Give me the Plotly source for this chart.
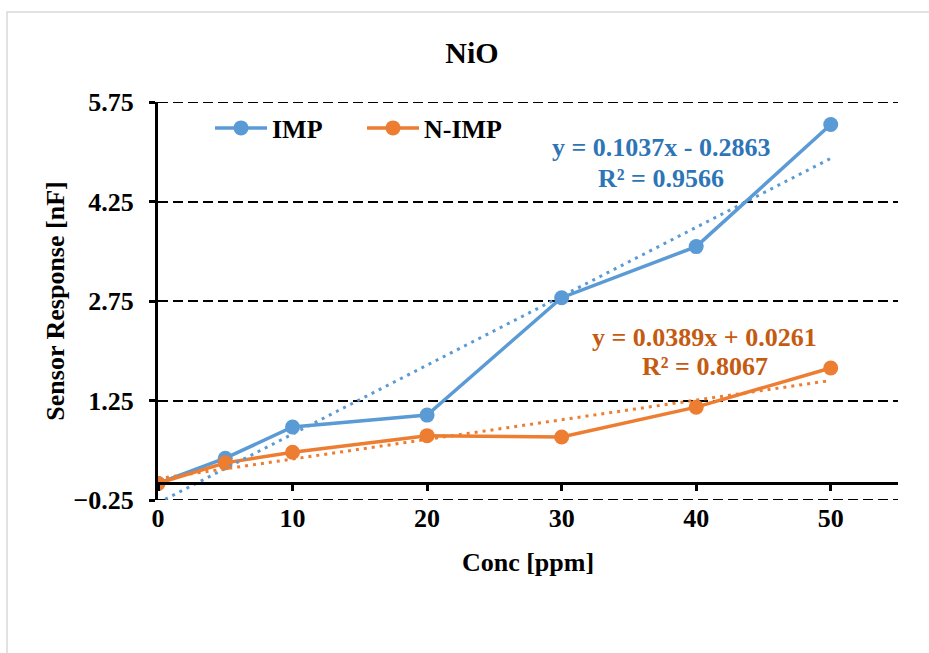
import numpy as np
import plotly.graph_objects as go

# Sensor response of NiO sensors vs. gas concentration
conc = [0, 5, 10, 20, 30, 40, 50]
imp = [0.00, 0.38, 0.85, 1.03, 2.80, 3.57, 5.41]
n_imp = [0.00, 0.31, 0.47, 0.72, 0.70, 1.15, 1.74]

x_ticks = [0, 10, 20, 30, 40, 50]
y_ticks = [-0.25, 1.25, 2.75, 4.25, 5.75]
x_range = [0, 55]
y_range = [-0.25, 5.75]

eq_imp = ["y = 0.1037x - 0.2863", "R² = 0.9566"]
eq_nimp = ["y = 0.0389x + 0.0261", "R² = 0.8067"]

BLUE = "#5B9BD5"
ORANGE = "#ED7D31"
BLUE_TXT = "#2E75B6"
ORANGE_TXT = "#C55A11"
FONT = "Liberation Serif"
GRID_DASH = "10px,5px"

W, H = 929, 653
L, R, T, B = 158, 31, 102, 153
PW, PH = W - L - R, H - T - B


def px(xp, yp):
    """Canvas pixel -> paper coordinates."""
    return (xp - L) / PW, (H - B - yp) / PH


fig = go.Figure()

for name, ys, col in [("IMP", imp, BLUE), ("N-IMP", n_imp, ORANGE)]:
    fig.add_trace(go.Scatter(
        x=conc, y=ys, name=name, mode="lines+markers",
        line=dict(color=col, width=3.5),
        marker=dict(color=col, size=15),
    ))

# Linear least-squares trendlines
for ys, col in [(imp, BLUE), (n_imp, ORANGE)]:
    k, b = np.polyfit(conc, ys, 1)
    xs = np.array([conc[0], conc[-1]])
    fig.add_trace(go.Scatter(
        x=xs, y=k * xs + b, mode="lines", showlegend=False,
        line=dict(color=col, width=3, dash="3px,5px"), hoverinfo="skip",
    ))

# Helper trace so the crossing x-axis (at y = 0) is drawn
fig.add_trace(go.Scatter(x=[None], y=[None], xaxis="x2", showlegend=False))

tick_font = dict(family=FONT, size=26, color="black", weight="bold")

fig.update_layout(
    width=W, height=H,
    margin=dict(l=L, r=R, t=T, b=B),
    paper_bgcolor="white", plot_bgcolor="white",
    title=dict(text="NiO", x=472 / W, xanchor="center", xref="container",
               y=1 - 52 / H, yanchor="middle", yref="container",
               font=dict(family=FONT, size=30, color="black", weight="bold")),
    xaxis=dict(
        range=x_range, tickvals=x_ticks, showgrid=False, zeroline=False,
        showline=False, ticks="", tickfont=tick_font, ticklabelstandoff=0,
        title=dict(text="Conc [ppm]", font=tick_font, standoff=20),
    ),
    xaxis2=dict(
        range=x_range, tickvals=x_ticks, overlaying="x", anchor="free",
        position=(0 - y_range[0]) / (y_range[1] - y_range[0]),
        showline=True, linecolor="black", linewidth=3,
        ticks="outside", ticklen=6, tickwidth=3, tickcolor="black",
        showticklabels=False, showgrid=False, zeroline=False,
    ),
    yaxis=dict(
        range=y_range, tickvals=y_ticks, tickformat=".2f",
        showline=True, linecolor="black", linewidth=3,
        ticks="outside", ticklen=6, tickwidth=2.5, tickcolor="black",
        showgrid=True, gridcolor="black", gridwidth=1.5, griddash=GRID_DASH,
        zeroline=False, tickfont=tick_font, ticklabelstandoff=10,
        title=dict(text="Sensor Response [nF]", font=tick_font, standoff=2),
    ),
    legend=dict(
        orientation="h", x=px(210, 0)[0], y=px(0, 128)[1],
        xanchor="left", yanchor="middle",
        font=tick_font, bgcolor="rgba(0,0,0,0)", itemwidth=52,
        entrywidth=85,
    ),
    showlegend=True,
)

# Gridlines on the range edges (not drawn by the axis itself)
for yv in y_range:
    fig.add_shape(type="line", xref="paper", yref="y", x0=0, x1=1,
                  y0=yv, y1=yv, layer="below",
                  line=dict(color="black", width=2, dash=GRID_DASH))

# Trendline equations
for (line1, line2), col, c1, c2 in [
    (eq_imp, BLUE_TXT, (661, 148), (661, 178)),
    (eq_nimp, ORANGE_TXT, (704, 337), (705, 366)),
]:
    for text, (cx, cy) in [(line1, c1), (line2, c2)]:
        ax_, ay_ = px(cx, cy)
        fig.add_annotation(
            text=text, x=ax_, y=ay_, xref="paper", yref="paper",
            xanchor="center", yanchor="middle", showarrow=False,
            font=dict(family=FONT, size=26, color=col, weight="bold"),
        )

# Light chart-area border
bx0, by0 = px(7, 12)
bx1, by1 = px(W + 20, H + 20)
fig.add_shape(type="rect", xref="paper", yref="paper",
              x0=bx0, y0=by1, x1=bx1, y1=by0,
              line=dict(color="#D9D9D9", width=1.5), layer="below")

fig.write_html("out.html")
